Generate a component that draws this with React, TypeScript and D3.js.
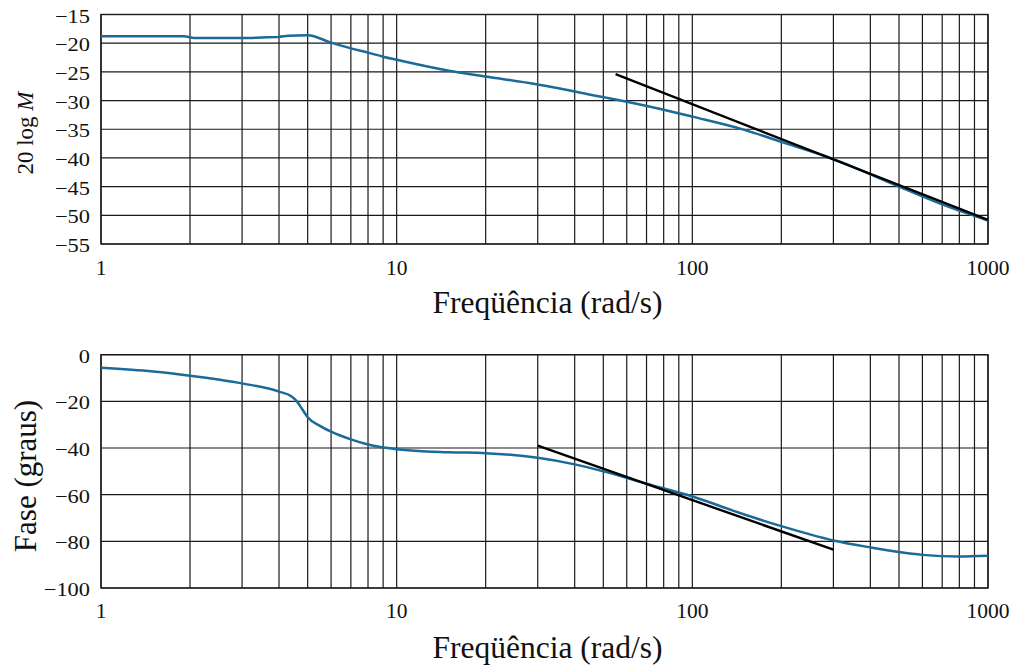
import React from "react";
import * as d3 from "d3";

// ---------- data ----------
const magFreq = [1, 1.9, 2.1, 3, 3.5, 4, 4.3, 5, 6, 7, 8, 9, 10, 15, 20, 30, 50, 60, 80, 100, 150, 200, 300, 500, 700, 1000];
const magDb = [-18.8, -18.8, -19.1, -19.1, -19.0, -18.9, -18.7, -18.6, -19.9, -20.9, -21.65, -22.35, -22.9, -24.8, -25.8, -27.2, -29.4, -30.2, -31.6, -32.8, -35.1, -37.2, -40.2, -45.0, -48.1, -50.9];
const magAsymFreq = [55, 1000];
const magAsymDb = [-25.4, -50.8];

const phaseFreq = [1, 1.5, 2, 3, 4, 4.4, 4.6, 4.8, 5, 5.5, 6, 7, 8, 10, 15, 20, 30, 40, 50, 70, 100, 150, 200, 300, 400, 500, 600, 800, 1000];
const phaseDeg = [-5.6, -7.2, -9.0, -12.3, -15.8, -17.8, -20.0, -23.5, -26.8, -30.5, -33.0, -36.3, -38.5, -40.5, -41.8, -42.2, -44.2, -47.0, -50.0, -55.3, -60.8, -68.5, -73.5, -79.6, -82.6, -84.6, -85.8, -86.5, -86.2];
const phaseAsymFreq = [30, 300];
const phaseAsymDeg = [-39.0, -83.6];

const xTickValues = [1, 10, 100, 1000];
const magTicks = [-15, -20, -25, -30, -35, -40, -45, -50, -55];
const phaseTicks = [0, -20, -40, -60, -80, -100];
const xTitle = "Freqüência (rad/s)";
const phaseTitle = "Fase (graus)";

// ---------- layout ----------
const W = 1028, H = 667;
const left = 101, right = 988;
const BLUE = "#1a6a9a";
const GRID = "#1a1a1a";
const FONT = "'Liberation Serif', 'Times New Roman', serif";

const x = d3.scaleLog().domain([1, 1000]).range([left, right]);
const gridFreqs: number[] = [];
for (const dec of [1, 10, 100]) for (let k = 1; k <= 9; k++) gridFreqs.push(dec * k);
gridFreqs.push(1000);

const fmtMinus = (v: number) => (v < 0 ? "\u2212" + Math.abs(v) : String(v));

function Panel(props: {
  top: number; bottom: number; domain: [number, number]; ticks: number[];
  freq: number[]; vals: number[]; aF: number[]; aV: number[];
  xTickBase: number; titleBase: number;
}) {
  const { top, bottom, domain, ticks, freq, vals, aF, aV, xTickBase, titleBase } = props;
  const y = d3.scaleLinear().domain(domain).range([bottom, top]);
  const line = d3.line<[number, number]>().x(d => x(d[0])).y(d => y(d[1])).curve(d3.curveMonotoneX);
  const pts = freq.map((f, i) => [f, vals[i]] as [number, number]);
  const apts = aF.map((f, i) => [f, aV[i]] as [number, number]);
  return (
    <g>
      {ticks.map(t => (
        <line key={"h" + t} x1={left} x2={right} y1={y(t)} y2={y(t)} stroke={GRID} strokeWidth={1.2} />
      ))}
      {gridFreqs.map(f => (
        <line key={"v" + f} x1={x(f)} x2={x(f)} y1={top} y2={bottom} stroke={GRID} strokeWidth={1.2} />
      ))}
      <rect x={left} y={top} width={right - left} height={bottom - top} fill="none" stroke={GRID} strokeWidth={1.4} />
      <path d={line(pts) || ""} fill="none" stroke={BLUE} strokeWidth={2.5} />
      <path d={d3.line<[number, number]>().x(d => x(d[0])).y(d => y(d[1]))(apts) || ""} fill="none" stroke="#000" strokeWidth={2.4} />
      {ticks.map(t => (
        <g key={"yt" + t} transform={`translate(90,${y(t) + 8}) scale(1.15,1)`}>
          <text textAnchor="end" fontFamily={FONT} fontSize={19.5} fill="#111">{fmtMinus(t)}</text>
        </g>
      ))}
      {xTickValues.map(v => (
        <text key={"xt" + v} x={x(v)} y={xTickBase} textAnchor="middle" fontFamily={FONT} fontSize={21.5} fill="#111">{v}</text>
      ))}
      <text x={(left + right) / 2 + 3} y={titleBase} textAnchor="middle" fontFamily={FONT} fontSize={31.5} fill="#111">{xTitle}</text>
    </g>
  );
}

export default function App() {
  return (
    <svg width={W} height={H} style={{ position: "absolute", left: 0, top: 0, background: "#fff" }}>
      <rect width={W} height={H} fill="#fff" />
      <Panel top={14.5} bottom={244} domain={[-55, -15]} ticks={magTicks}
        freq={magFreq} vals={magDb} aF={magAsymFreq} aV={magAsymDb} xTickBase={275} titleBase={313} />
      <Panel top={354.7} bottom={588} domain={[-100, 0]} ticks={phaseTicks}
        freq={phaseFreq} vals={phaseDeg} aF={phaseAsymFreq} aV={phaseAsymDeg} xTickBase={618} titleBase={658} />
      <text transform="translate(33,133) rotate(-90)" textAnchor="middle" fontFamily={FONT} fontSize={23} fill="#111">
        20 log <tspan fontStyle="italic">M</tspan>
      </text>
      <text transform="translate(36,476) rotate(-90)" textAnchor="middle" fontFamily={FONT} fontSize={31} fill="#111">{phaseTitle}</text>
    </svg>
  );
}
